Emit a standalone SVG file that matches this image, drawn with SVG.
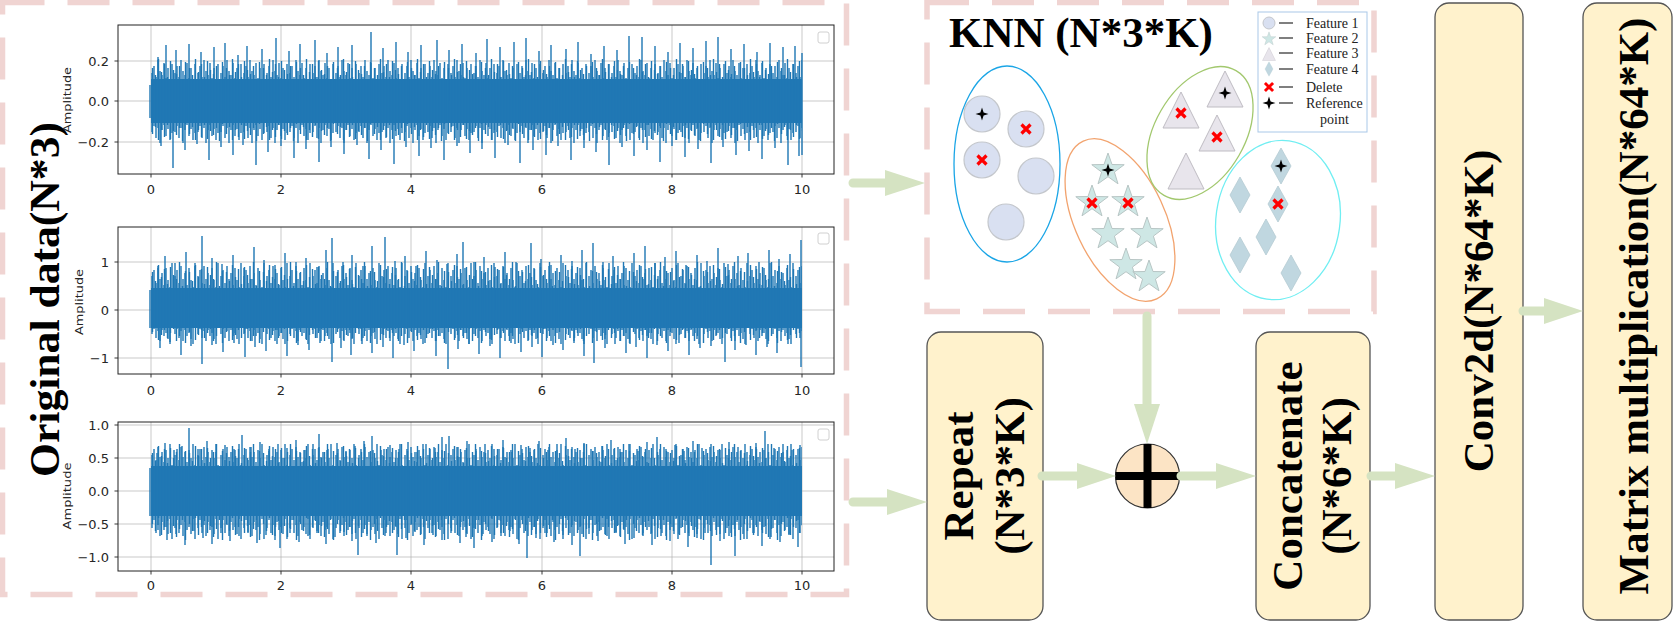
<svg xmlns="http://www.w3.org/2000/svg" width="1674" height="623" viewBox="0 0 1674 623">
<style>
.dash{fill:none;stroke:#F0D4D2;stroke-width:5.5;stroke-dasharray:42 23}
.grid{stroke:#b0b0b0;stroke-width:0.8;opacity:0.85;fill:none}
.spine{fill:none;stroke:#222;stroke-width:1}
.tick{stroke:#222;stroke-width:0.9;fill:none}
.tl{font-family:"DejaVu Sans",sans-serif;font-size:13px;fill:#262626}
.yl{text-anchor:end}
.xl{text-anchor:middle}
.amp{font-family:"DejaVu Sans",sans-serif;font-size:11px;fill:#262626;text-anchor:middle}
.sig{stroke:#1f77b4;stroke-width:1.4;fill:none}
.core{fill:#1f77b4}
.lgbox{fill:#fff;stroke:#d0d0d0;stroke-width:1}
.node{fill:#FFF2CC;stroke:#555;stroke-width:1.3}
.big{font-family:"Liberation Serif","Times New Roman",serif;font-weight:bold;font-size:43px;fill:#000;text-anchor:middle}
.head{fill:#D5E3C2}
.shaft{stroke:#D5E3C2;stroke-width:9;stroke-linecap:round;fill:none}
.lgt{font-family:"Liberation Serif","Times New Roman",serif;font-size:14px;fill:#222}
.lgl{stroke:#555;stroke-width:1.5}
</style>
<defs>
<pattern id="fzA" patternUnits="userSpaceOnUse" x="151" y="0" width="23" height="623">
<path class="sig" d="M1 73V132M3 66V126M5 77V138M7 60V128M9 71V143M11 75V130M13 63V125M15 78V136M17 68V129M19 80V140M21 64V133M1 276V334M3 270V329M5 283V338M7 266V331M9 279V341M11 273V330M13 285V336M15 268V333M17 280V339M19 287V344M21 263V327M1 455V528M3 449V520M5 460V533M7 447V525M9 457V536M11 452V522M13 462V530M15 450V527M17 458V534M19 444V519M21 465V539"/>
</pattern>
<pattern id="fzB" patternUnits="userSpaceOnUse" x="151" y="0" width="37" height="623">
<path class="sig" d="M1.5 68V134M4.5 75V127M7.5 59V140M10.5 72V130M13.5 64V137M16.5 77V125M19.5 61V139M22.5 70V131M25.5 74V135M28.5 66V128M31.5 79V141M34.5 62V124M1.5 272V332M4.5 281V328M7.5 265V340M10.5 277V335M13.5 269V330M16.5 284V338M19.5 267V333M22.5 275V329M25.5 279V341M28.5 262V336M31.5 286V327M34.5 271V343M1.5 453V524M4.5 461V531M7.5 446V518M10.5 456V535M13.5 449V527M16.5 463V521M19.5 448V533M22.5 458V526M25.5 452V537M28.5 444V529M31.5 466V520M34.5 451V540"/>
</pattern>
<circle id="c1" r="18" fill="#D9E0F1" stroke="#C4C7CC" stroke-width="1.2"/>
<polygon id="s1" points="0,-17 4,-5.5 16.2,-5.3 6.4,2.1 10,13.8 0,6.7 -10,13.8 -6.4,2.1 -16.2,-5.3 -4,-5.5" fill="#CEE7E5" stroke="#B8C6C5" stroke-width="1"/>
<path id="t1" d="M0,-18L18,18H-18Z" fill="#E8E5EC" stroke="#BFBCC3" stroke-width="1"/>
<path id="d1" d="M0,-18L10,0L0,18L-10,0Z" fill="#C0D7E0" stroke="#B5CBD3" stroke-width="0.8"/>
<path id="rx" d="M-4.5,-4.5L4.5,4.5M4.5,-4.5L-4.5,4.5" stroke="#FF0000" stroke-width="3.2" fill="none"/>
<path id="bs" d="M0,-6.5L1.6,-1.6L6.5,0L1.6,1.6L0,6.5L-1.6,1.6L-6.5,0L-1.6,-1.6Z" fill="#000"/>
</defs>

<rect x="0" y="0" width="1674" height="623" fill="#fff"/>

<g id="original-data">
<rect class="dash" x="2.5" y="2.5" width="844" height="592"/>
<text class="big" font-size="50" transform="translate(59,299.5) rotate(-90)" textLength="355" lengthAdjust="spacingAndGlyphs">Original data(N*3)</text>

<g id="plot1">
<path class="grid" d="M151 25V174M281 25V174M411 25V174M542 25V174M672 25V174M802 25V174M118 61H834M118 101H834M118 142H834"/>
<rect class="core" x="151" y="79" width="651" height="44"/>
<path class="sig" d="M150 85V118M158 101V57M166 101V45M176 101V50M189 101V44M201 101V52M214 101V47M225 101V43M238 101V55M247 101V46M262 101V49M276 101V38M289 101V51M300 101V44M315 101V40M327 101V53M338 101V47M352 101V45M371 101V32M383 101V48M396 101V42M408 101V52M421 101V45M437 101V40M449 101V50M462 101V44M476 101V53M487 101V39M500 101V47M514 101V42M526 101V38M539 101V51M551 101V45M566 101V49M578 101V42M591 101V54M604 101V46M617 101V50M629 101V36M642 101V37M655 101V46M668 101V52M680 101V43M693 101V48M706 101V41M718 101V37M731 101V49M744 101V44M757 101V52M770 101V43M783 101V47M795 101V46M802 101V53M161 101V146M173 101V168M185 101V150M197 101V144M209 101V160M221 101V147M233 101V155M243 101V145M256 101V165M268 101V152M281 101V146M294 101V158M306 101V149M319 101V162M331 101V147M344 101V154M357 101V145M369 101V159M381 101V150M394 101V164M406 101V147M419 101V156M431 101V148M444 101V160M457 101V146M470 101V153M482 101V149M495 101V158M508 101V145M520 101V163M533 101V150M546 101V155M558 101V146M571 101V160M584 101V148M596 101V152M609 101V165M622 101V147M634 101V156M647 101V150M660 101V162M672 101V146M685 101V157M698 101V149M711 101V163M723 101V147M736 101V155M749 101V151M762 101V159M775 101V148M788 101V165M799 101V156M802 101V155"/>
<rect class="spine" x="118" y="25" width="716" height="149"/>
<path class="tick" d="M151 174v3.5M281 174v3.5M411 174v3.5M542 174v3.5M672 174v3.5M802 174v3.5M118 61h-3.5M118 101h-3.5M118 142h-3.5"/>
<g class="tl yl"><text x="109" y="65.5">0.2</text><text x="109" y="105.5">0.0</text><text x="109" y="146.5">−0.2</text></g>
<g class="tl xl"><text x="151" y="194">0</text><text x="281" y="194">2</text><text x="411" y="194">4</text><text x="542" y="194">6</text><text x="672" y="194">8</text><text x="802" y="194">10</text></g>
<text class="amp" transform="translate(71,100) rotate(-90)" textLength="66" lengthAdjust="spacingAndGlyphs">Amplitude</text>
<rect class="lgbox" x="818" y="32" width="11" height="11" rx="2"/>
</g>

<g id="plot2">
<path class="grid" d="M151 227V374M281 227V374M411 227V374M542 227V374M672 227V374M802 227V374M118 262H834M118 310H834M118 358H834"/>
<rect class="core" x="151" y="288" width="651" height="40"/>
<path class="sig" d="M150 290V328M158 310V268M165 310V256M175 310V263M186 310V252M195 310V266M202 310V236M212 310V258M222 310V264M233 310V255M244 310V268M254 310V247M264 310V260M275 310V265M285 310V253M296 310V262M306 310V258M317 310V267M326 310V250M332 310V238M343 310V262M352 310V255M363 310V266M372 310V246M385 310V237M395 310V261M405 310V256M416 310V266M426 310V251M437 310V260M447 310V264M457 310V254M463 310V242M474 310V262M484 310V257M495 310V267M505 310V252M516 310V262M531 310V243M541 310V259M551 310V265M561 310V255M572 310V261M582 310V250M593 310V243M603 310V262M613 310V256M624 310V266M634 310V253M645 310V246M655 310V263M665 310V257M676 310V251M686 310V265M697 310V255M707 310V261M718 310V248M728 310V264M738 310V256M748 310V253M759 310V262M769 310V250M779 310V259M790 310V254M801 310V240M160 310V348M170 310V342M181 310V355M191 310V346M202 310V364M212 310V345M223 310V352M234 310V343M245 310V357M255 310V347M266 310V351M277 310V344M287 310V356M298 310V345M309 310V350M320 310V343M332 310V362M341 310V348M351 310V355M362 310V344M372 310V353M383 310V347M393 310V358M404 310V345M414 310V351M425 310V343M436 310V356M448 310V369M458 310V349M469 310V344M479 310V354M490 310V346M500 310V358M511 310V343M521 310V352M532 310V347M542 310V357M553 310V345M563 310V350M574 310V343M584 310V356M594 310V363M605 310V348M615 310V344M626 310V353M636 310V347M647 310V358M657 310V345M668 310V351M679 310V343M689 310V355M700 310V348M711 310V346M725 310V362M735 310V350M746 310V345M756 310V355M767 310V347M777 310V353M788 310V344M801 310V367"/>
<rect class="spine" x="118" y="227" width="716" height="147"/>
<path class="tick" d="M151 374v3.5M281 374v3.5M411 374v3.5M542 374v3.5M672 374v3.5M802 374v3.5M118 262h-3.5M118 310h-3.5M118 358h-3.5"/>
<g class="tl yl"><text x="109" y="266.5">1</text><text x="109" y="314.5">0</text><text x="109" y="362.5">−1</text></g>
<g class="tl xl"><text x="151" y="395">0</text><text x="281" y="395">2</text><text x="411" y="395">4</text><text x="542" y="395">6</text><text x="672" y="395">8</text><text x="802" y="395">10</text></g>
<text class="amp" transform="translate(83,302) rotate(-90)" textLength="66" lengthAdjust="spacingAndGlyphs">Amplitude</text>
<rect class="lgbox" x="818" y="233" width="11" height="11" rx="2"/>
</g>

<g id="plot3">
<path class="grid" d="M151 422V571M281 422V571M411 422V571M542 422V571M672 422V571M802 422V571M118 425H834M118 458H834M118 491H834M118 524H834M118 557H834"/>
<rect class="core" x="151" y="466" width="651" height="50"/>
<path class="sig" d="M150 468V516M157 491V453M165 491V443M174 491V450M182 491V446M189 491V428M198 491V449M207 491V441M216 491V452M225 491V445M234 491V449M242 491V435M251 491V447M260 491V442M269 491V451M278 491V444M287 491V448M296 491V440M305 491V450M313 491V444M319 491V434M328 491V449M337 491V443M346 491V451M355 491V446M364 491V441M372 491V436M381 491V450M390 491V445M399 491V449M408 491V442M417 491V452M426 491V444M435 491V448M442 491V437M449 491V436M458 491V447M467 491V441M476 491V451M485 491V444M494 491V449M503 491V440M512 491V452M521 491V445M530 491V448M539 491V441M548 491V450M557 491V444M566 491V438M575 491V449M584 491V443M593 491V451M602 491V446M611 491V440M620 491V449M629 491V444M638 491V451M647 491V442M657 491V437M666 491V449M675 491V445M684 491V451M693 491V441M702 491V448M711 491V444M720 491V450M729 491V442M738 491V447M747 491V452M756 491V443M765 491V431M774 491V448M783 491V444M792 491V450M800 491V445M158 491V530M167 491V540M176 491V534M185 491V545M194 491V531M203 491V538M212 491V544M221 491V533M230 491V541M239 491V536M248 491V532M257 491V543M266 491V535M275 491V540M280 491V548M290 491V533M299 491V542M308 491V536M317 491V531M326 491V544M335 491V537M344 491V532M352 491V541M358 491V555M367 491V534M376 491V543M385 491V536M397 491V555M406 491V538M415 491V532M424 491V545M433 491V535M442 491V540M451 491V533M460 491V543M466 491V537M474 491V548M483 491V534M492 491V542M501 491V536M510 491V531M519 491V544M527 491V558M536 491V538M545 491V533M554 491V542M563 491V535M572 491V545M580 491V556M589 491V534M598 491V541M607 491V536M616 491V532M625 491V544M634 491V538M643 491V533M652 491V545M661 491V536M670 491V541M679 491V534M688 491V547M697 491V538M705 491V533M711 491V565M720 491V541M729 491V536M735 491V556M744 491V539M753 491V533M762 491V546M771 491V537M780 491V542M789 491V535M798 491V547"/>
<rect class="spine" x="118" y="422" width="716" height="149"/>
<path class="tick" d="M151 571v3.5M281 571v3.5M411 571v3.5M542 571v3.5M672 571v3.5M802 571v3.5M118 425h-3.5M118 458h-3.5M118 491h-3.5M118 524h-3.5M118 557h-3.5"/>
<g class="tl yl"><text x="109" y="429.5">1.0</text><text x="109" y="462.5">0.5</text><text x="109" y="495.5">0.0</text><text x="109" y="528.5">−0.5</text><text x="109" y="561.5">−1.0</text></g>
<g class="tl xl"><text x="151" y="590">0</text><text x="281" y="590">2</text><text x="411" y="590">4</text><text x="542" y="590">6</text><text x="672" y="590">8</text><text x="802" y="590">10</text></g>
<text class="amp" transform="translate(71,496) rotate(-90)" textLength="67" lengthAdjust="spacingAndGlyphs">Amplitude</text>
<rect class="lgbox" x="818" y="429" width="11" height="11" rx="2"/>
</g>
<rect x="151" y="0" width="651" height="623" fill="url(#fzA)"/>
<rect x="151" y="0" width="651" height="623" fill="url(#fzB)"/>
</g>

<g id="knn">
<rect class="dash" x="927" y="2.5" width="447" height="309"/>
<text class="big" x="949" y="47" style="text-anchor:start">KNN (N*3*K)</text>
<ellipse cx="1007" cy="164" rx="53" ry="98" fill="none" stroke="#1AA5E6" stroke-width="1.3"/>
<ellipse cx="1120" cy="220" rx="45" ry="87" transform="rotate(-25 1120 220)" fill="none" stroke="#F2A36E" stroke-width="1.3"/>
<ellipse cx="1200" cy="133" rx="45" ry="72" transform="rotate(30 1200 133)" fill="none" stroke="#A2C86E" stroke-width="1.3"/>
<ellipse cx="1278" cy="220" rx="62" ry="80" transform="rotate(8 1278 220)" fill="none" stroke="#70EEF2" stroke-width="1.3"/>
<use href="#c1" x="982" y="114"/><use href="#c1" x="1026" y="129"/><use href="#c1" x="982" y="160"/><use href="#c1" x="1036" y="176"/><use href="#c1" x="1006" y="222"/>
<use href="#s1" x="1108" y="170"/><use href="#s1" x="1092" y="202"/><use href="#s1" x="1128" y="202"/><use href="#s1" x="1108" y="234"/><use href="#s1" x="1147" y="234"/><use href="#s1" x="1126" y="265"/><use href="#s1" x="1149" y="277"/>
<use href="#t1" x="1181" y="110"/><use href="#t1" x="1225" y="89"/><use href="#t1" x="1217" y="133"/><use href="#t1" x="1186" y="171"/>
<use href="#d1" x="1281" y="166"/><use href="#d1" x="1240" y="195"/><use href="#d1" x="1278" y="204"/><use href="#d1" x="1266" y="237"/><use href="#d1" x="1240" y="255"/><use href="#d1" x="1291" y="273"/>
<use href="#bs" x="982" y="114"/><use href="#rx" x="1026" y="129"/><use href="#rx" x="982" y="160"/>
<use href="#bs" x="1108" y="170"/><use href="#rx" x="1092" y="203"/><use href="#rx" x="1128" y="203"/>
<use href="#rx" x="1181" y="113"/><use href="#bs" x="1225" y="93"/><use href="#rx" x="1217" y="137"/>
<use href="#bs" x="1281" y="166"/><use href="#rx" x="1278" y="204"/>
<g id="knn-legend">
<rect x="1258" y="12" width="109" height="120" fill="#fff" stroke="#A9C8E8" stroke-width="1"/>
<circle cx="1269" cy="23" r="6" fill="#D9E0F1" stroke="#C4C7CC"/>
<use href="#s1" transform="translate(1269,39) scale(0.42)"/>
<use href="#t1" transform="translate(1269,54) scale(0.36)"/>
<use href="#d1" transform="translate(1269,69) scale(0.4)"/>
<use href="#rx" transform="translate(1269,87) scale(0.9)"/>
<use href="#bs" x="1269" y="103"/>
<path class="lgl" d="M1279 23H1293M1279 38H1293M1279 53H1293M1279 69H1293M1279 87H1293M1279 103H1293"/>
<text class="lgt" x="1306" y="28">Feature 1</text>
<text class="lgt" x="1306" y="43">Feature 2</text>
<text class="lgt" x="1306" y="58">Feature 3</text>
<text class="lgt" x="1306" y="74">Feature 4</text>
<text class="lgt" x="1306" y="92">Delete</text>
<text class="lgt" x="1306" y="108">Reference</text>
<text class="lgt" x="1320" y="124">point</text>
</g>
</g>

<g id="repeat">
<rect class="node" x="927" y="332" width="116" height="288" rx="14"/>
<text class="big" transform="translate(973,476) rotate(-90)">Repeat</text>
<text class="big" transform="translate(1024,476) rotate(-90)">(N*3*K)</text>
</g>

<g id="add">
<circle cx="1147.5" cy="476" r="32" fill="#FCE4C5" stroke="#333" stroke-width="1.2"/>
<path d="M1115.5 476H1179.5M1147.5 444V508" stroke="#000" stroke-width="8"/>
</g>

<g id="concatenate">
<rect class="node" x="1256" y="332" width="114" height="288" rx="14"/>
<text class="big" transform="translate(1302,476) rotate(-90)">Concatenate</text>
<text class="big" transform="translate(1351,476) rotate(-90)">(N*6*K)</text>
</g>

<g id="conv2d">
<rect class="node" x="1435" y="3" width="88" height="617" rx="14"/>
<text class="big" transform="translate(1493,311) rotate(-90)">Conv2d(N*64*K)</text>
</g>

<g id="matmul">
<rect class="node" x="1583" y="3" width="89" height="617" rx="14"/>
<text class="big" transform="translate(1648,306) rotate(-90)">Matrix multiplication(N*64*K)</text>
</g>

<g id="connectors">
<path class="shaft" d="M853 183H888M853 502H890M1147 316V406M1042 476H1079M1181 476H1218M1371 476H1397M1523 311H1545"/>
<path class="head" d="M885 170L925 183L885 196Z"/>
<path class="head" d="M887 489L927 502L887 515Z"/>
<path class="head" d="M1134 404L1147 444L1160 404Z"/>
<path class="head" d="M1077 463L1116 476L1077 489Z"/>
<path class="head" d="M1216 463L1256 476L1216 489Z"/>
<path class="head" d="M1395 463L1435 476L1395 489Z"/>
<path class="head" d="M1544 298L1583 311L1544 324Z"/>
</g>
</svg>
